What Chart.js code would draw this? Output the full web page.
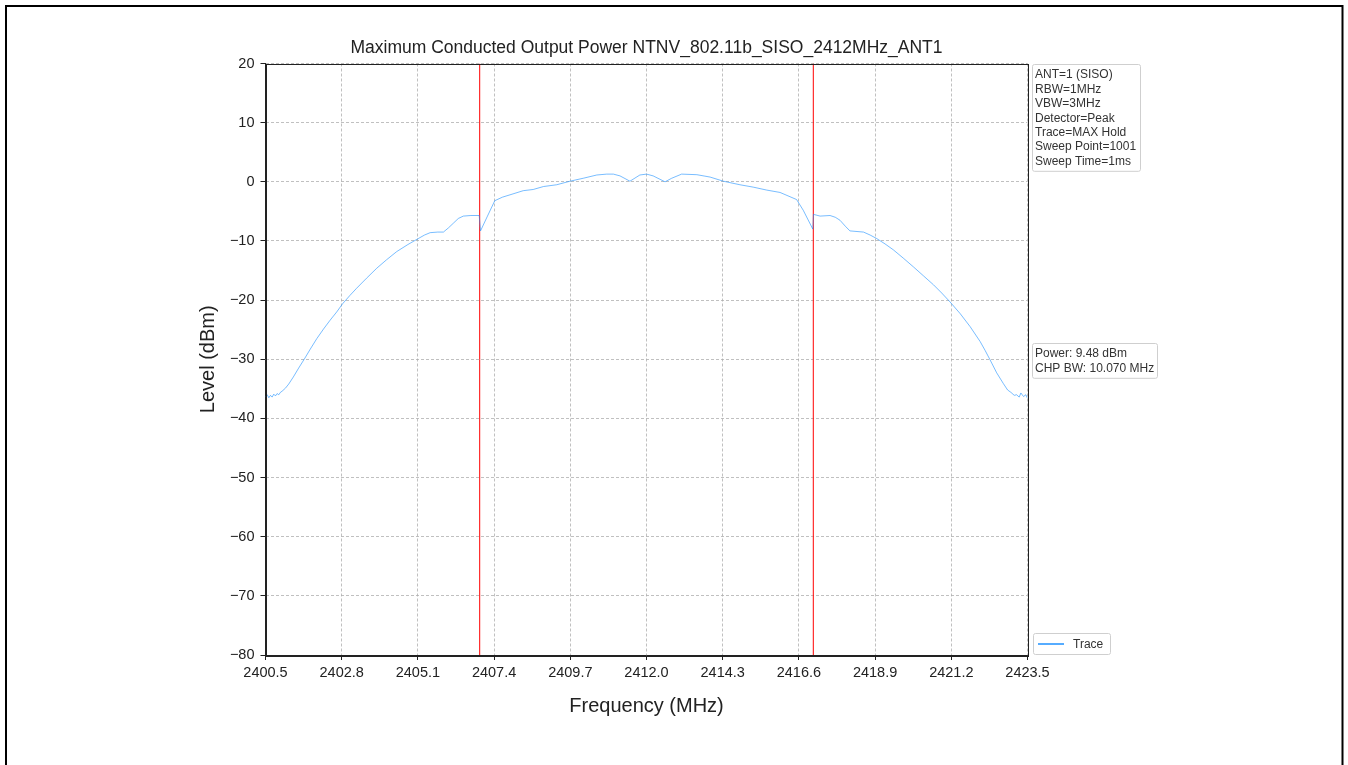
<!DOCTYPE html>
<html>
<head>
<meta charset="utf-8">
<script src="https://cdn.jsdelivr.net/npm/chart.js@4.4.1/dist/chart.umd.min.js"></script>
<style>
  html, body { margin: 0; padding: 0; background: #fff; }
  #wrap { width: 1348px; height: 765px; position: relative; }
</style>
</head>
<body>
<div id="wrap"><canvas id="spectrum-chart"></canvas></div>
<script>
// trace (MHz / dBm)
const freq = [
  2400.50, 2400.55, 2400.60, 2400.65, 2400.70, 2400.75, 2400.80, 2400.85, 2400.90, 2400.95,
  2401.00, 2401.10, 2401.20, 2401.34, 2401.50, 2401.69, 2401.85, 2402.05, 2402.25, 2402.45,
  2402.65, 2402.83, 2403.05, 2403.25, 2403.55, 2403.86, 2404.15, 2404.46, 2404.80, 2405.11,
  2405.30, 2405.47, 2405.70, 2405.87, 2406.02, 2406.17, 2406.32, 2406.47, 2406.70, 2406.95,
  2406.99, 2407.20, 2407.42, 2407.65, 2407.88, 2408.28, 2408.58, 2408.89, 2409.29, 2409.69,
  2410.09, 2410.50, 2410.80, 2411.00, 2411.20, 2411.50, 2411.80, 2412.00, 2412.20, 2412.56,
  2412.76, 2413.06, 2413.52, 2413.92, 2414.32, 2414.82, 2415.22, 2415.63, 2416.03, 2416.53,
  2416.73, 2417.02, 2417.04, 2417.24, 2417.54, 2417.70, 2417.84, 2418.00, 2418.14, 2418.55,
  2418.75, 2418.95, 2419.20, 2419.45, 2419.75, 2420.06, 2420.36, 2420.66, 2420.91, 2421.16,
  2421.47, 2421.77, 2422.07, 2422.22, 2422.37, 2422.57, 2422.77, 2422.90, 2423.00, 2423.10,
  2423.17, 2423.25, 2423.30, 2423.38, 2423.45, 2423.50
];
const level = [
  -36.3, -36.0, -36.5, -36.1, -36.4, -35.9, -36.2, -35.8, -36.0, -35.6,
  -35.4, -34.9, -34.2, -33.0, -31.5, -29.8, -28.3, -26.5, -24.9, -23.4,
  -22.0, -20.6, -19.2, -18.0, -16.3, -14.6, -13.2, -11.8, -10.6, -9.6,
  -9.0, -8.6, -8.5, -8.5, -7.8, -7.0, -6.2, -5.8, -5.7, -5.7,
  -8.3, -5.8, -3.2, -2.6, -2.2, -1.5, -1.3, -0.8, -0.5, 0.1,
  0.6, 1.15, 1.3, 1.3, 1.0, 0.1, 1.15, 1.3, 1.0, 0.0,
  0.6, 1.3, 1.2, 0.8, 0.1, -0.5, -0.9, -1.4, -1.8, -3.0,
  -4.8, -8.0, -5.5, -5.8, -5.7, -6.0, -6.5, -7.5, -8.3, -8.5,
  -9.0, -9.6, -10.5, -11.5, -12.9, -14.4, -15.9, -17.4, -18.8, -20.3,
  -22.3, -24.5, -27.0, -28.5, -30.1, -32.3, -34.1, -35.2, -35.6, -36.1,
  -36.0, -36.4, -35.7, -36.3, -36.0, -36.6
];

// channel power markers
const markerFreq = [2406.965, 2417.035];

const xTicks = [2400.5, 2402.8, 2405.1, 2407.4, 2409.7, 2412.0, 2414.3, 2416.6, 2418.9, 2421.2, 2423.5];
const yTicks = [-80, -70, -60, -50, -40, -30, -20, -10, 0, 10, 20];

const chartTitle = 'Maximum Conducted Output Power NTNV_802.11b_SISO_2412MHz_ANT1';
const settingsText = ['ANT=1 (SISO)', 'RBW=1MHz', 'VBW=3MHz', 'Detector=Peak', 'Trace=MAX Hold', 'Sweep Point=1001', 'Sweep Time=1ms'];
const powerText = ['Power: 9.48 dBm', 'CHP BW: 10.070 MHz'];

const FONT = "'Liberation Sans', Arial, sans-serif";
const traceColor = '#1e90ff';

const minus = v => String(v).replace('-', '\u2212');

const textBox = (ctx, x, y, w, lines, size, lh) => {
  const h = lines.length * lh + 6;
  ctx.save();
  ctx.fillStyle = 'rgba(255,255,255,0.9)';
  ctx.strokeStyle = '#cfcfcf';
  ctx.lineWidth = 1;
  ctx.beginPath();
  ctx.roundRect(x + 0.5, y + 0.5, w, h, 2);
  ctx.fill();
  ctx.stroke();
  ctx.fillStyle = '#333';
  ctx.font = size + 'px ' + FONT;
  ctx.textBaseline = 'alphabetic';
  lines.forEach((t, i) => ctx.fillText(t, x + 3, y + 3 + lh * i + size * 0.95));
  ctx.restore();
};

const decorations = {
  id: 'decorations',
  afterDraw(chart) {
    const { ctx, chartArea: a } = chart;
    ctx.save();
    // plot frame
    ctx.strokeStyle = '#222';
    ctx.lineWidth = 1;
    ctx.strokeRect(Math.round(a.left) + 0.5, Math.round(a.top) + 0.5, Math.round(a.right - a.left), Math.round(a.bottom - a.top));
    // title
    ctx.fillStyle = '#222';
    ctx.font = '17.5px ' + FONT;
    ctx.textAlign = 'center';
    ctx.textBaseline = 'alphabetic';
    ctx.fillText(chartTitle, (a.left + a.right) / 2, 53);
    ctx.textAlign = 'left';
    // outer border of the figure
    ctx.strokeStyle = '#000';
    ctx.lineWidth = 2;
    ctx.beginPath();
    ctx.moveTo(6, 800);
    ctx.lineTo(6, 6);
    ctx.lineTo(1342.5, 6);
    ctx.lineTo(1342.5, 800);
    ctx.stroke();
    ctx.restore();

    textBox(ctx, 1032, 64, 108, settingsText, 12, 14.4);
    textBox(ctx, 1032, 343, 125, powerText, 12, 14.4);

    // legend
    ctx.save();
    ctx.fillStyle = 'rgba(255,255,255,0.9)';
    ctx.strokeStyle = '#cfcfcf';
    ctx.lineWidth = 1;
    ctx.beginPath();
    ctx.roundRect(1033.5, 633.5, 77, 21, 2);
    ctx.fill();
    ctx.stroke();
    ctx.strokeStyle = chart.data.datasets[0].borderColor;
    ctx.lineWidth = 1.5;
    ctx.beginPath();
    ctx.moveTo(1038, 644);
    ctx.lineTo(1064, 644);
    ctx.stroke();
    ctx.fillStyle = '#333';
    ctx.font = '12px ' + FONT;
    ctx.textBaseline = 'middle';
    ctx.fillText(chart.data.datasets[0].label, 1073, 644.5);
    ctx.restore();
  }
};

const ctx = document.getElementById('spectrum-chart');

const chart = new Chart(ctx, {
  type: 'line',
  data: {
    datasets: [{
      label: 'Trace',
      data: freq.map((f, i) => ({ x: f, y: level[i] })),
      borderColor: traceColor,
      borderWidth: 0.6,
      pointRadius: 0,
      tension: 0,
    }].concat(markerFreq.map(f => ({
      label: 'marker',
      data: [{ x: f, y: yTicks[0] }, { x: f, y: yTicks[yTicks.length - 1] }],
      borderColor: '#ff0000',
      borderWidth: 1,
      pointRadius: 0,
    })))
  },
  options: {
    responsive: true,
    maintainAspectRatio: false,
    animation: false,
    layout: { padding: { left: 0, top: 63.5, right: 320.5, bottom: 0 } },
    plugins: {
      legend: { display: false },
      tooltip: { enabled: false },
    },
    scales: {
      x: {
        type: 'linear',
        min: xTicks[0],
        max: xTicks[xTicks.length - 1],
        afterBuildTicks: axis => { axis.ticks = xTicks.map(v => ({ value: v })); },
        afterFit: axis => { axis.height = 110; },
        ticks: {
          font: { family: FONT, size: 14.5 },
          color: '#222',
          padding: 4,
          maxRotation: 0,
          autoSkip: false,
          callback: v => v.toFixed(1),
        },
        grid: { color: '#b0b0b0', lineWidth: 0.8, tickColor: '#222', tickLength: 5, tickWidth: 1 },
        border: { display: true, color: '#222', width: 1, dash: [3, 2] },
        title: {
          display: true,
          text: 'Frequency (MHz)',
          font: { family: FONT, size: 20 },
          color: '#222',
          padding: { top: 4, bottom: 47 },
        },
      },
      y: {
        min: yTicks[0],
        max: yTicks[yTicks.length - 1],
        afterBuildTicks: axis => { axis.ticks = yTicks.map(v => ({ value: v })); },
        afterFit: axis => { axis.width = 265.5; },
        ticks: {
          font: { family: FONT, size: 14.5 },
          color: '#222',
          padding: 6,
          callback: v => minus(v),
        },
        grid: { color: '#b0b0b0', lineWidth: 0.8, tickColor: '#222', tickLength: 5, tickWidth: 1 },
        border: { display: true, color: '#222', width: 1, dash: [3, 2] },
        title: {
          display: true,
          text: 'Level (dBm)',
          font: { family: FONT, size: 20 },
          color: '#222',
          padding: { top: 196, bottom: 4 },
        },
      },
    },
  },
  plugins: [decorations],
});
</script>
</body>
</html>
